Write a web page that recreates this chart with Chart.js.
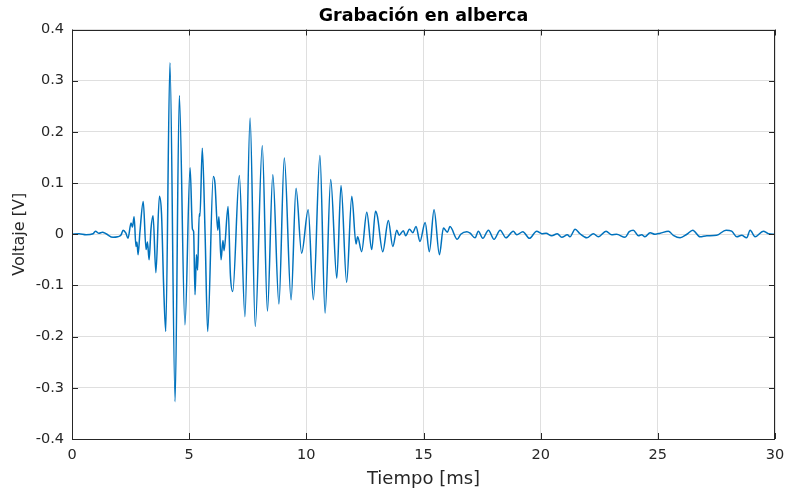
<!DOCTYPE html>
<html>
<head>
<meta charset="utf-8">
<title>Grabación en alberca</title>
<script src="https://cdn.jsdelivr.net/npm/chart.js@4/dist/chart.umd.min.js"></script>
<style>
  html, body { margin: 0; padding: 0; background: #fff; }
  #wrap { width: 786px; height: 490px; }
</style>
</head>
<body>
<div id="wrap"><canvas id="myChart" width="786" height="490"></canvas></div>
<script>
// time in ms (peaks and troughs of the recording)
const timeMs = [
  0, 0.3, 0.6, 0.9, 1.0, 1.15, 1.3, 1.45, 1.75, 1.95,
  2.1, 2.18, 2.3, 2.39, 2.52, 2.58, 2.65, 2.73, 2.77, 2.82,
  2.9, 3.04, 3.16, 3.22, 3.29, 3.37, 3.46, 3.58, 3.73, 3.82,
  3.91, 4.0, 4.18, 4.4, 4.58, 4.82, 5.04, 5.14, 5.19, 5.25,
  5.31, 5.36, 5.43, 5.46, 5.56, 5.68, 5.79, 6.03, 6.1, 6.22,
  6.27, 6.36, 6.44, 6.49, 6.66, 6.76, 6.86, 7.14, 7.38,
  7.6, 7.82, 8.12, 8.34, 8.57, 8.83, 9.06, 9.35, 9.56, 9.8,
  10.08, 10.3, 10.58, 10.8, 11.04, 11.3, 11.48, 11.72, 11.94, 12.12,
  12.19, 12.36, 12.58, 12.79, 12.95, 13.03, 13.26, 13.5, 13.69, 13.86,
  13.96, 14.14, 14.24, 14.4, 14.54, 14.68, 14.85, 15.07, 15.25, 15.45,
  15.68, 15.85, 16.02, 16.13, 16.44, 16.59, 16.85, 16.99, 17.2, 17.34,
  17.53, 17.77, 18.01, 18.27, 18.52, 18.83, 18.98, 19.24, 19.52, 19.83,
  20.05, 20.23, 20.47, 20.71, 20.9, 21.14, 21.25, 21.47, 21.68, 21.97,
  22.25, 22.46, 22.79, 23.03, 23.24, 23.6, 23.78, 23.95, 24.17, 24.31,
  24.45, 24.67, 24.88, 25.1, 25.45, 25.66, 25.95, 26.24, 26.49, 26.8,
  27.09, 27.51, 27.91, 28.15, 28.37, 28.58, 28.79, 28.94, 29.15, 29.5,
  29.72, 30
];
const voltage = [
  0, 0.001, -0.001, 0.001, 0.006, 0.002, 0.004, 0.001, -0.006, -0.005,
  -0.001, 0.008, 0.002, -0.008, 0.022, 0.014, 0.034, -0.024, -0.015, -0.04,
  0.005, 0.064, -0.03, -0.015, -0.05, 0.01, 0.036, -0.075, 0.074, 0.04,
  -0.1, -0.19, 0.335, -0.327, 0.271, -0.177, 0.13, 0.01, 0.005, -0.118,
  -0.04, -0.07, 0.04, 0.035, 0.168, 0.0, -0.19, 0.113, 0.1, 0.008,
  0.034, -0.05, -0.012, -0.032, 0.054, -0.08, -0.112, 0.115, -0.161,
  0.227, -0.18, 0.173, -0.15, 0.116, -0.136, 0.149, -0.128, 0.09, -0.037,
  0.048, -0.128, 0.154, -0.154, 0.107, -0.086, 0.095, -0.094, 0.074, -0.019,
  -0.005, -0.034, 0.043, -0.03, 0.045, 0.036, -0.034, 0.027, -0.024, 0.008,
  -0.002, 0.007, -0.003, 0.01, 0.003, 0.015, -0.014, 0.023, -0.034, 0.048,
  -0.04, 0.012, 0.004, 0.015, -0.01, 0.0, 0.005, 0.002, -0.007, 0.006,
  -0.008, 0.008, -0.01, 0.008, -0.007, 0.006, -0.001, 0.005, -0.008, 0.006,
  0.001, 0.002, -0.003, 0.001, -0.006, -0.001, -0.005, 0.01, 0.001, -0.007,
  0.001, -0.005, 0.006, -0.001, 0.0, -0.006, 0.005, 0.008, -0.003, -0.001,
  -0.005, 0.003, 0.0, 0.002, 0.006, -0.002, -0.007, 0.0, 0.008, -0.005,
  -0.003, -0.002, 0.008, 0.006, -0.005, -0.002, -0.007, 0.008, -0.005, 0.006,
  0.001, 0
];

const xTicks = [0, 5, 10, 15, 20, 25, 30];
const yTicks = [-0.4, -0.3, -0.2, -0.1, 0, 0.1, 0.2, 0.3, 0.4];

const fontFamily = "'DejaVu Sans', sans-serif";
const axisColor = "#262626";

// MATLAB style box with inward ticks on all four sides
const boxPlugin = {
    id: "box",
    afterDraw(chart) {
        const { ctx, chartArea: a, scales: { x, y } } = chart;
        const len = 6;
        ctx.save();
        ctx.strokeStyle = axisColor;
        ctx.lineWidth = 1;
        ctx.beginPath();
        xTicks.forEach(v => {
            const px = Math.round(x.getPixelForValue(v)) + 0.5;
            ctx.moveTo(px, a.top);
            ctx.lineTo(px, a.top + len);
            ctx.moveTo(px, a.bottom);
            ctx.lineTo(px, a.bottom - len);
        });
        yTicks.forEach(v => {
            const py = Math.round(y.getPixelForValue(v)) + 0.5;
            ctx.moveTo(a.left, py);
            ctx.lineTo(a.left + len, py);
            ctx.moveTo(a.right, py);
            ctx.lineTo(a.right - len, py);
        });
        ctx.stroke();
        ctx.strokeRect(Math.round(a.left) + 0.5, Math.round(a.top) + 0.5,
            Math.round(a.width) - 1, Math.round(a.height) - 1);
        ctx.restore();
    }
};

const ctx = document.getElementById("myChart").getContext("2d");

new Chart(ctx, {
    type: "line",
    data: {
        datasets: [
            {
                label: "Voltaje",
                data: timeMs.map((t, i) => ({ x: t, y: voltage[i] })),
                borderColor: "#0072BD",
                borderWidth: 1.5,
                pointRadius: 0,
                fill: false,
                cubicInterpolationMode: "monotone",
            },
        ],
    },
    options: {
        responsive: false,
        animation: false,
        devicePixelRatio: 1,
        layout: { padding: { left: 0, right: 11, top: 0, bottom: 0 } },
        plugins: {
            legend: { display: false },
            tooltip: { enabled: false },
            title: {
                display: true,
                text: "Grabación en alberca",
                fullSize: false,
                color: "#000",
                font: { family: fontFamily, size: 17.5, weight: "bold", lineHeight: 1.2 },
                padding: { top: 6, bottom: 2.5 },
            },
        },
        scales: {
            x: {
                type: "linear",
                min: 0,
                max: 30,
                afterBuildTicks: scale => { scale.ticks = xTicks.map(v => ({ value: v })); },
                afterFit: scale => {
                    scale.height = 51;
                    scale.paddingLeft = 0;
                    scale.paddingRight = 0;
                },
                grid: { color: "#dfdfdf", drawTicks: false },
                border: { display: false },
                ticks: {
                    color: axisColor,
                    padding: 8,
                    maxRotation: 0,
                    font: { family: fontFamily, size: 14.5 },
                },
                title: {
                    display: true,
                    text: "Tiempo [ms]",
                    color: axisColor,
                    font: { family: fontFamily, size: 18, lineHeight: 1.2 },
                    padding: { top: 0, bottom: 0 },
                },
            },
            y: {
                type: "linear",
                min: -0.4,
                max: 0.4,
                afterBuildTicks: scale => { scale.ticks = yTicks.map(v => ({ value: v })); },
                afterFit: scale => { scale.width = 72; },
                grid: { color: "#dfdfdf", drawTicks: false },
                border: { display: false },
                ticks: {
                    color: axisColor,
                    padding: 8,
                    font: { family: fontFamily, size: 14.5 },
                    callback: v => (v === 0 ? "0" : v.toFixed(1)),
                },
                title: {
                    display: true,
                    text: "Voltaje [V]",
                    color: axisColor,
                    font: { family: fontFamily, size: 16, lineHeight: 1.2 },
                    padding: { top: 10, bottom: 0 },
                },
            },
        },
    },
    plugins: [boxPlugin],
});
</script>
</body>
</html>
